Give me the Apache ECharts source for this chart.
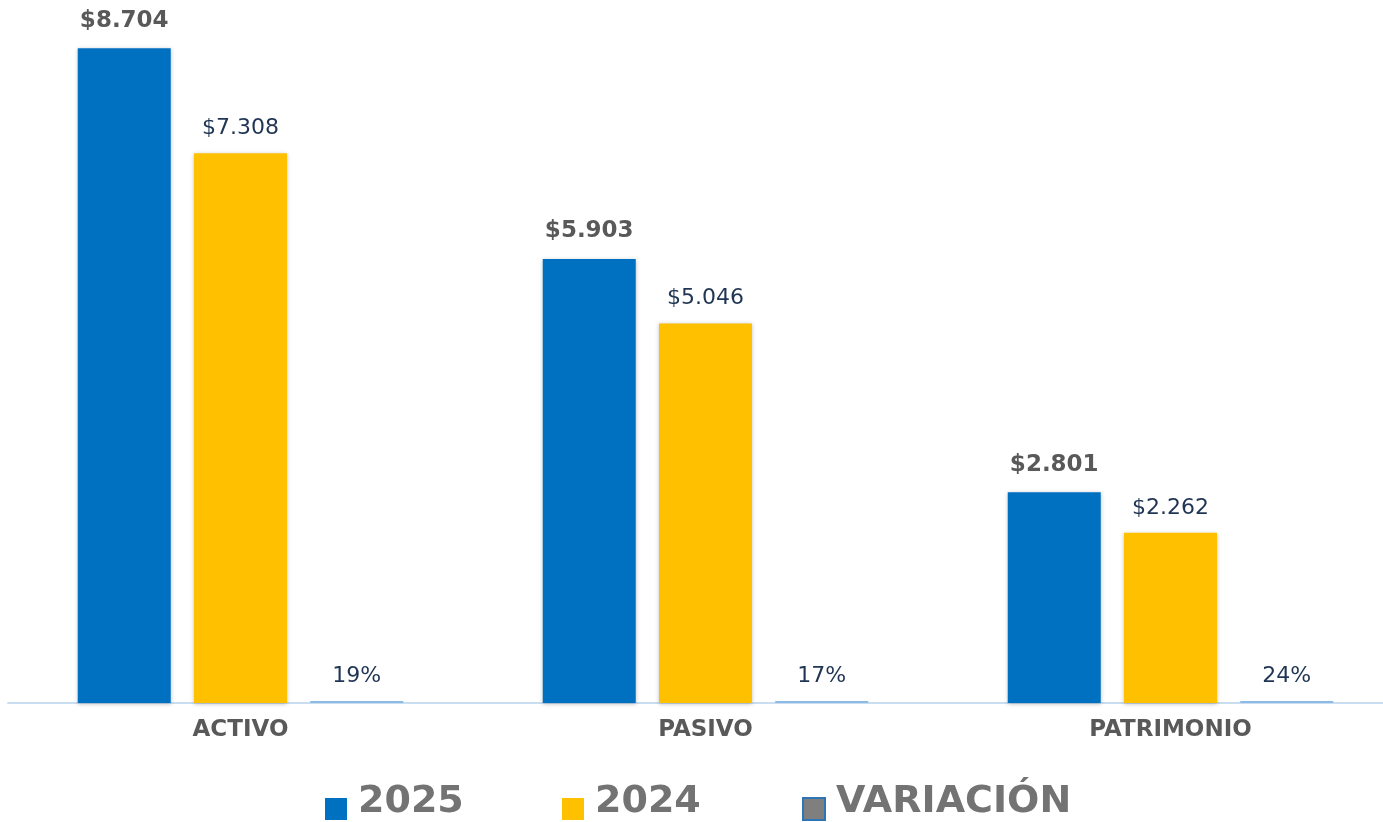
<!DOCTYPE html>
<html>
<head>
<meta charset="utf-8">
<script src="https://cdn.jsdelivr.net/npm/echarts@6/dist/echarts.min.js"></script>
<style>
  html, body { margin: 0; padding: 0; background: #fff; }
  #main { width: 1383px; height: 822px; }
</style>
</head>
<body>
<div id="main"></div>
<script>
var categories = ['ACTIVO', 'PASIVO', 'PATRIMONIO'];
var values2025 = [8704, 5903, 2801];
var values2024 = [7308, 5046, 2262];
var variacion = [0.19, 0.17, 0.24];
var seriesNames = ['2025', '2024', 'VARIACIÓN'];

var font = 'DejaVu Sans';

function money(v) {
    return '$' + String(v).replace(/\B(?=(\d{3})+(?!\d))/g, '.');
}

// one legend per item so each sits where the original puts it
// the icon path keeps an empty strip on top so the square sits low, as in Excel
var legendLeft = [320, 557, 797];
var legends = seriesNames.map(function (name, i) {
    return {
        data: [name],
        left: legendLeft[i], top: 778,
        itemWidth: 22, itemHeight: 36,
        icon: 'path://M0,0 M0,14 L22,14 L22,36 L0,36 Z',
        textStyle: { color: '#737373', fontFamily: font, fontWeight: 'bold', fontSize: 38, padding: [0, 0, 26, 6] }
    };
});

var myChart = echarts.init(document.getElementById('main'));
var option = {
    animation: false,
    grid: { left: 8, top: 26, width: 1395, height: 677, outerBoundsMode: 'none' },
    xAxis: {
        type: 'category',
        data: categories,
        axisLine: { lineStyle: { color: '#c9def1', width: 2 } },
        axisTick: { show: false },
        axisLabel: { margin: 16, color: '#595959', fontFamily: font, fontWeight: 'bold', fontSize: 23 }
    },
    yAxis: {
        type: 'value', min: 0, max: 9000,
        show: false, splitLine: { show: false }
    },
    legend: legends,
    series: [
        {
            name: seriesNames[0], type: 'bar', data: values2025,
            barWidth: 93, barGap: '25%',
            itemStyle: { color: '#0070c0', shadowBlur: 4, shadowColor: 'rgba(0,0,0,0.25)', shadowOffsetY: 1 },
            label: {
                show: true, position: 'top', distance: 16,
                color: '#595959', fontFamily: font, fontWeight: 'bold', fontSize: 23,
                formatter: function (p) { return money(p.value); }
            }
        },
        {
            name: seriesNames[1], type: 'bar', data: values2024,
            barWidth: 93,
            itemStyle: { color: '#ffc000', shadowBlur: 4, shadowColor: 'rgba(0,0,0,0.25)', shadowOffsetY: 1 },
            label: {
                show: true, position: 'top', distance: 14,
                color: '#1f3553', fontFamily: font, fontSize: 22,
                formatter: function (p) { return money(p.value); }
            }
        },
        {
            name: seriesNames[2], type: 'bar',
            data: variacion.map(function (v) {
                return { value: v, itemStyle: { color: '#8dbbe3', borderWidth: 0 } };
            }),
            barWidth: 93, barMinHeight: 2,
            itemStyle: { color: '#7f7f7f', borderColor: '#2e75b6', borderWidth: 1.5 },
            label: {
                show: true, position: 'top', distance: 14,
                color: '#1f3553', fontFamily: font, fontSize: 22,
                formatter: function (p) { return Math.round(p.value * 100) + '%'; }
            }
        }
    ]
};
myChart.setOption(option);
</script>
</body>
</html>
